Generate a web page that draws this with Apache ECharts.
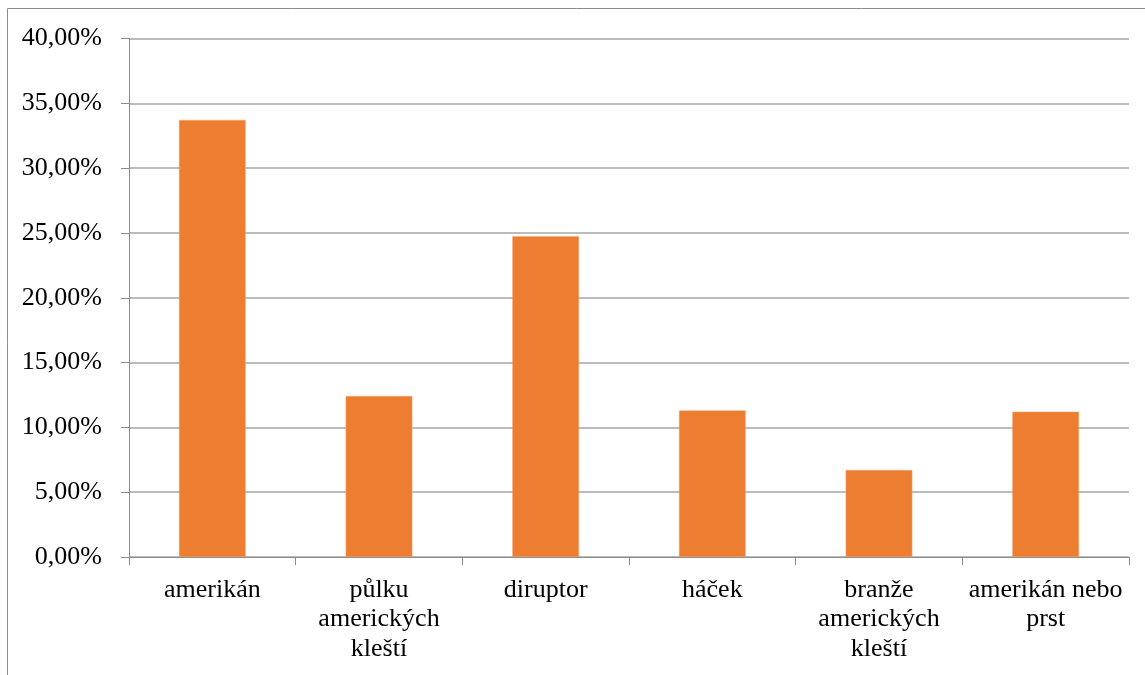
<!DOCTYPE html>
<html>
<head>
<meta charset="utf-8">
<script src="https://cdn.jsdelivr.net/npm/echarts@6/dist/echarts.min.js"></script>
<style>
  html, body { margin: 0; padding: 0; background: #fff; }
  #chart { position: absolute; left: 0; top: 0; width: 1145px; height: 675px; }
</style>
</head>
<body>
<div id="chart"></div>
<script>
// Categories (with manual line breaks for the axis labels)
const categories = [
  'amerikán',
  'půlku\namerických\nkleští',
  'diruptor',
  'háček',
  'branže\namerických\nkleští',
  'amerikán nebo\nprst'
];
// Share of answers, in percent
const shares = [33.72, 12.42, 24.74, 11.31, 6.71, 11.21];
// Value axis ticks
const yMin = 0, yMax = 40, yStep = 5;

const fontFamily = '"Liberation Serif", "Times New Roman", serif';
const chart = echarts.init(document.getElementById('chart'), null, { renderer: 'canvas' });

chart.setOption({
  animation: false,
  backgroundColor: '#ffffff',
  textStyle: { fontFamily: fontFamily },
  graphic: [{
    type: 'rect',
    silent: true,
    shape: { x: 7.5, y: 8.5, width: 1300, height: 800 },
    style: { fill: 'none', stroke: '#8c8c8c', lineWidth: 1 }
  }],
  grid: { left: 129, right: 16, top: 38.5, bottom: 118, containLabel: false },
  xAxis: {
    type: 'category',
    data: categories,
    boundaryGap: true,
    axisLine: { show: true, lineStyle: { color: '#8c8c8c', width: 1 } },
    axisTick: { show: true, length: 8, alignWithLabel: false, lineStyle: { color: '#8c8c8c' } },
    axisLabel: {
      interval: 0,
      margin: 18,
      color: '#000',
      fontSize: 26,
      lineHeight: 29.5,
      fontFamily: fontFamily,
      align: 'center'
    },
    splitLine: { show: false }
  },
  yAxis: {
    type: 'value',
    min: yMin,
    max: yMax,
    interval: yStep,
    axisLine: { show: true, lineStyle: { color: '#8c8c8c', width: 1 } },
    axisTick: { show: true, length: 8, lineStyle: { color: '#8c8c8c' } },
    axisLabel: {
      margin: 27,
      color: '#000',
      fontSize: 26,
      fontFamily: fontFamily,
      formatter: v => v.toFixed(2).replace('.', ',') + '%'
    },
    splitLine: { show: true, lineStyle: { color: '#a6a6a6', width: 1.5 } }
  },
  series: [{
    type: 'bar',
    data: shares,
    barCategoryGap: '60%',
    itemStyle: { color: '#ED7D31', borderColor: '#F4A470', borderWidth: 0.5 }
  }]
});
</script>
</body>
</html>
